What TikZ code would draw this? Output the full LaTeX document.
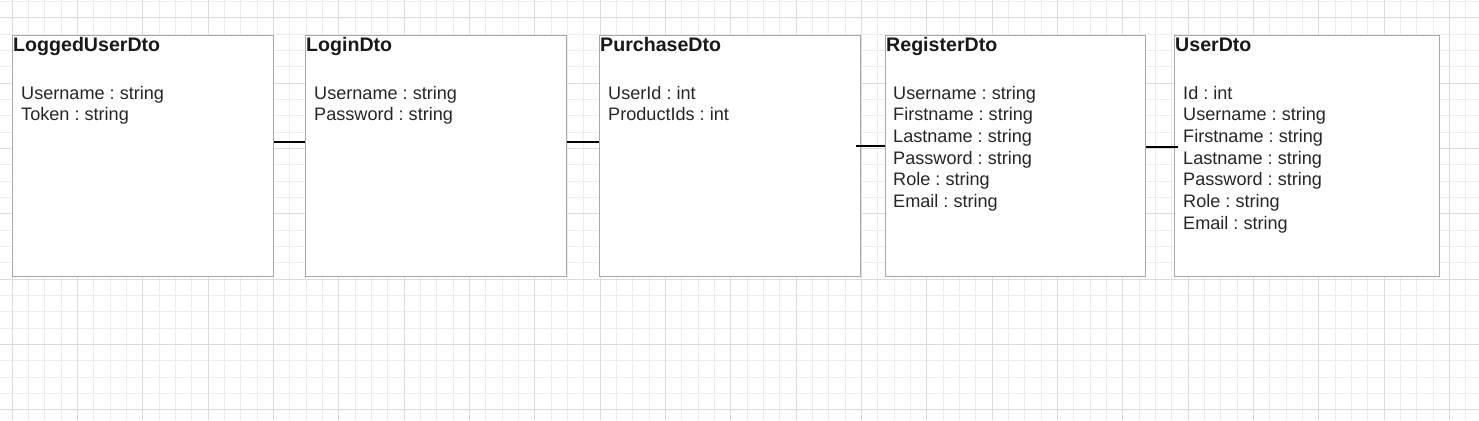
\documentclass[tikz,border=0pt]{standalone}
\usepackage{fontspec}
\setmainfont{Liberation Sans}
\frenchspacing
\definecolor{gridminor}{HTML}{EDEDED}
\definecolor{gridmajor}{HTML}{DCDCDC}
\definecolor{boxline}{HTML}{A8A8A8}
\tikzset{
  classbox/.style={draw=boxline, line width=1.1pt, fill=white, anchor=north west, inner sep=0pt, minimum height=241pt},
  classtitle/.style={anchor=base west, inner sep=0pt, font=\fontsize{19.6}{22}\selectfont\bfseries, text=black!90},
  classattr/.style={anchor=north west, inner sep=0pt, align=left, font=\fontsize{18.1}{21.67}\selectfont, text=black!85},
  link/.style={draw=black, line width=1.8pt},
}
\begin{document}
\begin{tikzpicture}[x=1pt,y=-1pt]
\useasboundingbox (0,0) rectangle (1479,420);
\fill[white] (0,0) rectangle (1479,420);
% grid
\foreach \i in {0,...,91} {\draw[gridminor, line width=0.8pt] ({12+(\i-1)*16.333},0) -- ++(0,420);}
\foreach \j in {0,...,26} {\draw[gridminor, line width=0.8pt] (0,{1.33+\j*16.333}) -- ++(1479,0);}
\foreach \i in {0,...,23} {\draw[gridmajor, line width=0.8pt] ({12+(\i-1)*65.333},0) -- ++(0,420);}
\foreach \j in {0,...,7} {\draw[gridmajor, line width=0.8pt] (0,{17.67+\j*65.333}) -- ++(1479,0);}
% boxes
\node[classbox, minimum width=261pt] (b1) at (12,35) {};
\node[classbox, minimum width=261pt] (b2) at (305,35) {};
\node[classbox, minimum width=261pt] (b3) at (599,35) {};
\node[classbox, minimum width=260pt] (b4) at (885,35) {};
\node[classbox, minimum width=265pt] (b5) at (1174,35) {};
% titles
\node[classtitle] (t1) at ([xshift=1pt,yshift=-17pt]b1.north west) {LoggedUserDto};
\node[classtitle] (t2) at ([xshift=1pt,yshift=-17pt]b2.north west) {LoginDto};
\node[classtitle] (t3) at ([xshift=1pt,yshift=-17pt]b3.north west) {PurchaseDto};
\node[classtitle] (t4) at ([xshift=1pt,yshift=-17pt]b4.north west) {RegisterDto};
\node[classtitle] (t5) at ([xshift=1pt,yshift=-17pt]b5.north west) {UserDto};
% attributes
\node[classattr] (a1) at ([xshift=9pt,yshift=-51pt]b1.north west) {Username : string\\Token : string};
\node[classattr] (a2) at ([xshift=9pt,yshift=-51pt]b2.north west) {Username : string\\Password : string};
\node[classattr] (a3) at ([xshift=9pt,yshift=-51pt]b3.north west) {UserId : int\\ProductIds : int};
\node[classattr] (a4) at ([xshift=8pt,yshift=-51pt]b4.north west) {Username : string\\Firstname : string\\Lastname : string\\Password : string\\Role : string\\Email : string};
\node[classattr] (a5) at ([xshift=9pt,yshift=-51pt]b5.north west) {Id : int\\Username : string\\Firstname : string\\Lastname : string\\Password : string\\Role : string\\Email : string};
% connectors
\draw[link] ([yshift=-107pt]b1.north east) -- ([yshift=-107pt]b2.north west);
\draw[link] ([yshift=-107pt]b2.north east) -- ([yshift=-107pt]b3.north west);
\draw[link] ([xshift=-5pt,yshift=-111pt]b3.north east) -- ([yshift=-111pt]b4.north west);
\draw[link] ([yshift=-112pt]b4.north east) -- ([xshift=4pt,yshift=-112pt]b5.north west);
\end{tikzpicture}
\end{document}
